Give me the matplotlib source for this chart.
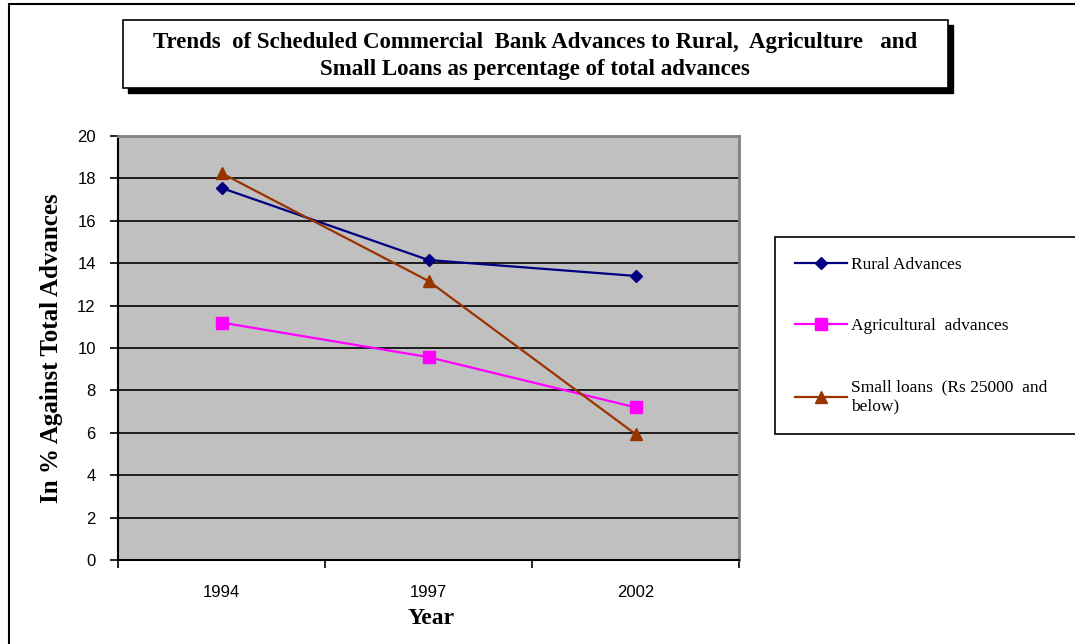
import matplotlib
matplotlib.use("Agg")
import matplotlib.pyplot as plt
from matplotlib.patches import Rectangle
from matplotlib.lines import Line2D

years = ["1994", "1997", "2002"]
rural = [17.55, 14.15, 13.4]
agri = [11.2, 9.57, 7.2]
small = [18.25, 13.16, 5.94]
series_names = ["Rural Advances", "Agricultural  advances",
                "Small loans  (Rs 25000  and\nbelow)"]

W, H = 1075, 644
fig = plt.figure(figsize=(W / 100, H / 100), dpi=100)
fig.patch.set_facecolor("white")


def fx(px):
    return px / W


def fy(py):
    return 1 - py / H


# outer chart frame
fig.patches.append(Rectangle((fx(9), fy(700)), 1.2, fy(4) - fy(700),
                             transform=fig.transFigure, fill=False,
                             edgecolor="black", linewidth=1.5, zorder=0))

# plot area
ax = fig.add_axes([fx(118), fy(560), fx(739) - fx(118), fy(136) - fy(560)])
ax.set_facecolor("#C0C0C0")
x = [0.5, 1.5, 2.5]
ax.set_xlim(0, 3)
ax.set_ylim(0, 20)
ax.set_yticks(range(0, 21, 2))
for yv in range(2, 20, 2):
    ax.axhline(yv, color="black", linewidth=1.2, zorder=1)

ax.plot(x, rural, color="#000080", marker="D", markersize=6, linewidth=1.6,
        zorder=3)
ax.plot(x, agri, color="#FF00FF", marker="s", markersize=8, linewidth=1.6,
        zorder=3)
ax.plot(x, small, color="#993300", marker="^", markersize=8, linewidth=1.6,
        zorder=3)

ax.set_xticks([0, 1, 2, 3])
ax.set_xticklabels([])
ax.set_xticks(x, minor=True)
ax.set_xticklabels(years, minor=True, fontsize=12, family="Liberation Sans")
ax.tick_params(axis="x", which="major", direction="out", length=6,
               width=1.2, color="black")
ax.tick_params(axis="x", which="minor", length=0, pad=18)
ax.tick_params(axis="y", direction="out", length=6, width=1.2, pad=10,
               labelsize=12)
for lab in ax.get_yticklabels():
    lab.set_family("Liberation Sans")

for side in ("left", "bottom"):
    ax.spines[side].set_color("black")
    ax.spines[side].set_linewidth(1.5)
for side in ("top", "right"):
    ax.spines[side].set_color("#808080")
    ax.spines[side].set_linewidth(2)

ax.set_ylabel("In % Against Total Advances", family="Liberation Serif",
              fontweight="bold", fontsize=18, labelpad=10)
fig.text(fx(431), fy(619), "Year", ha="center", va="center",
         family="Liberation Serif", fontweight="bold", fontsize=17)

# title box with drop shadow
fig.patches.append(Rectangle((fx(128), fy(93)), fx(953) - fx(128),
                             fy(25) - fy(93), transform=fig.transFigure,
                             facecolor="black", edgecolor="black", zorder=1))
fig.patches.append(Rectangle((fx(123), fy(88)), fx(948) - fx(123),
                             fy(20) - fy(88), transform=fig.transFigure,
                             facecolor="white", edgecolor="black",
                             linewidth=1.2, zorder=2))
fig.text(fx(535), fy(56),
         "Trends  of Scheduled Commercial  Bank Advances to Rural,  Agriculture   and\n"
         "Small Loans as percentage of total advances",
         ha="center", va="center", family="Liberation Serif",
         fontweight="bold", fontsize=16.5, linespacing=1.38, zorder=3)

# legend
handles = [
    Line2D([], [], color="#000080", marker="D", markersize=6, linewidth=1.6),
    Line2D([], [], color="#FF00FF", marker="s", markersize=8, linewidth=1.6),
    Line2D([], [], color="#993300", marker="^", markersize=8, linewidth=1.6),
]
leg = fig.legend(handles, series_names, loc="upper left",
                 bbox_to_anchor=(fx(775), fy(434), 0.32, fy(237) - fy(434)),
                 mode="expand", frameon=True, fancybox=False,
                 edgecolor="black", framealpha=1, labelspacing=2.6,
                 handlelength=3.0, handletextpad=0.25, borderpad=1.15,
                 borderaxespad=0, prop={"family": "Liberation Serif",
                                        "size": 12.5})
leg.get_frame().set_linewidth(1.2)

fig.savefig("out.png", dpi=100)
